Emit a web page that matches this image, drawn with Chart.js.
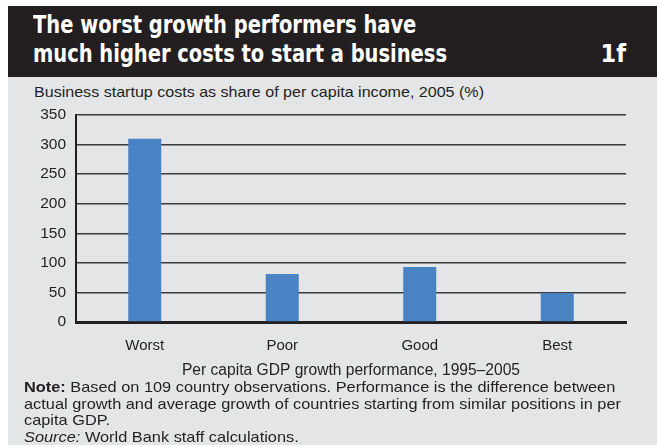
<!DOCTYPE html>
<html>
<head>
<meta charset="utf-8">
<script src="https://cdn.jsdelivr.net/npm/chart.js@4/dist/chart.umd.min.js"></script>
<style>
  html, body { margin: 0; padding: 0; background: #fff; overflow: hidden; }
  body { width: 657px; height: 447px; position: relative; font-family: "Liberation Sans", Arial, sans-serif; }
  #frame { position: absolute; left: 8px; top: 6px; width: 649px; height: 439px; }
  #head { position: absolute; left: 0; top: 0; width: 649px; height: 71px; background: #231f20; color: #fff; }
  #head .title {
    position: absolute; left: 25px; top: 4px;
    font-family: "DejaVu Sans Condensed", "Liberation Sans", sans-serif;
    font-weight: bold; font-size: 25px; line-height: 29px; white-space: nowrap;
    transform-origin: 0 0;
  }
  #head .num {
    position: absolute; right: 31px; top: 33px;
    font-family: "DejaVu Sans Condensed", "Liberation Sans", sans-serif;
    font-weight: bold; font-size: 25px; line-height: 29px;
  }
  #panel { position: absolute; left: 0; top: 71px; width: 649px; height: 368px; background: #e4e5e7; }
  #subtitle { position: absolute; left: 26px; top: 6px; font-size: 15px; line-height: 18px; color: #231f20; white-space: nowrap; transform-origin: 0 0; }
  #chartBox { position: absolute; left: 0; top: 23px; width: 649px; height: 285px; }
  #notes { position: absolute; left: 16px; top: 302px; font-size: 15px; line-height: 16.5px; color: #231f20; white-space: nowrap; transform-origin: 0 0; }
</style>
</head>
<body>
<div id="frame">
  <div id="head">
    <div class="title" data-width="414">The worst growth performers have<br>much higher costs to start a business</div>
    <div class="num">1f</div>
  </div>
  <div id="panel">
    <div id="subtitle" data-width="450">Business startup costs as share of per capita income, 2005 (%)</div>
    <div id="chartBox"><canvas id="chart" width="649" height="285"></canvas></div>
    <div id="notes" data-width="597"><b>Note:</b> Based on 109 country observations. Performance is the difference between<br>actual growth and average growth of countries starting from similar positions in per<br>capita GDP.<br><i>Source:</i> World Bank staff calculations.</div>
  </div>
</div>
<script>
// growth performance groups and startup cost (% of per capita income)
const categories = ['Worst', 'Poor', 'Good', 'Best'];
const startupCosts = [310, 81, 93, 49];
const yMax = 350;
const yStep = 50;
const xTitle = 'Per capita GDP growth performance, 1995\u20132005';

// squeeze/stretch text blocks horizontally to their set width
document.querySelectorAll('[data-width]').forEach((el) => {
    const target = parseFloat(el.dataset.width);
    const w = el.getBoundingClientRect().width;
    if (w > 0) el.style.transform = `scaleX(${target / w})`;
});

const tickFont = { family: "'Liberation Sans', Arial, sans-serif", size: 15 };
const titleFont = { family: "'Liberation Sans', Arial, sans-serif", size: 15.6 };

new Chart(document.getElementById('chart'), {
    type: 'bar',
    data: {
        labels: categories,
        datasets: [{
            data: startupCosts,
            backgroundColor: '#4a83c4',
            borderWidth: 0,
            barPercentage: 0.24,
            categoryPercentage: 1
        }]
    },
    options: {
        responsive: false,
        devicePixelRatio: 1,
        animation: false,
        layout: { padding: { left: 20, right: 31, top: 15, bottom: 5 } },
        plugins: {
            legend: { display: false },
            tooltip: { enabled: false }
        },
        scales: {
            x: {
                z: 1, // keep the base line over the bars
                afterFit: (scale) => { scale.height = 58; },
                grid: { display: false, drawTicks: false },
                border: { display: true, color: '#231f20', width: 3 },
                ticks: { color: '#231f20', font: tickFont, padding: 15 },
                title: {
                    display: true,
                    text: xTitle,
                    color: '#231f20',
                    font: titleFont,
                    padding: { top: 3, bottom: 0 }
                }
            },
            y: {
                min: 0,
                max: yMax,
                afterFit: (scale) => {
                    scale.width = 48;
                    scale.paddingTop = 0;
                    scale.paddingBottom = 0;
                },
                grid: { color: '#3c3c3c', lineWidth: 1.5, drawTicks: false },
                border: { display: true, color: '#231f20', width: 2 },
                ticks: { stepSize: yStep, color: '#231f20', font: { family: tickFont.family, size: 15.5 }, padding: 10 }
            }
        }
    }
});
</script>
</body>
</html>
